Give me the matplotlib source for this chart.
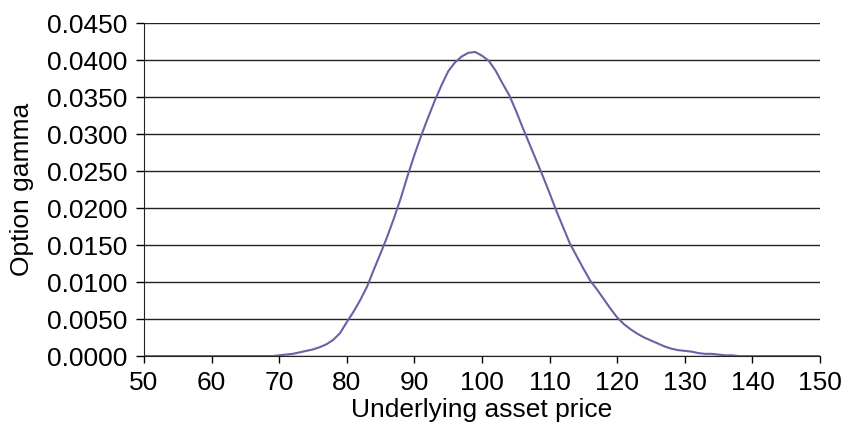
import matplotlib
matplotlib.use("Agg")
from matplotlib import pyplot as plt

# Underlying asset price and option gamma
price = [50, 60, 69, 70, 71, 72, 73, 74, 75, 76, 77, 78, 79, 80, 81, 82, 83, 84, 85,
         86, 87, 88, 89, 90, 91, 92, 93, 94, 95, 96, 97, 98, 99, 100, 101, 102,
         103, 104, 105, 106, 107, 108, 109, 110, 111, 112, 113, 114, 115, 116,
         117, 118, 119, 120, 121, 122, 123, 124, 125, 126, 127, 128, 129, 130,
         131, 132, 133, 134, 135, 136, 137, 138, 140, 150]
gamma = [0.0, 0.0, 0.0, 0.0001, 0.0002, 0.0003, 0.0005, 0.0007, 0.0009, 0.0012,
         0.0016, 0.0022, 0.0031, 0.0046, 0.0060, 0.0076, 0.0094, 0.0117, 0.0139,
         0.0162, 0.0187, 0.0214, 0.0244, 0.0272, 0.0298, 0.0322, 0.0345, 0.0366,
         0.0385, 0.0397, 0.0405, 0.0410, 0.0411, 0.0406, 0.0399, 0.0386, 0.0369,
         0.0353, 0.0332, 0.0309, 0.0287, 0.0265, 0.0243, 0.0220, 0.0196, 0.0174,
         0.0152, 0.0135, 0.0118, 0.0102, 0.0090, 0.0077, 0.0064, 0.0052, 0.0043,
         0.0036, 0.0030, 0.0025, 0.0021, 0.0017, 0.0013, 0.0010, 0.0008, 0.0007,
         0.0006, 0.0004, 0.0003, 0.0003, 0.0002, 0.0001, 0.0001, 0.0, 0.0, 0.0]

x_ticks = list(range(50, 151, 10))
y_ticks = [i * 0.005 for i in range(10)]

plt.rcParams['font.family'] = ['Liberation Sans', 'DejaVu Sans']

fig = plt.figure(figsize=(8.42, 4.29), dpi=100)
ax = fig.add_axes([0.171, 0.170, 0.803, 0.776])

# horizontal grid lines at each y tick
ax.grid(axis='y', color='#222222', linewidth=1.0)
ax.set_axisbelow(True)

ax.plot(price, gamma, color='#6464a6', linewidth=1.5)

ax.set_xlim(50, 150)
ax.set_ylim(0, 0.045)
ax.set_xticks(x_ticks)
ax.set_yticks(y_ticks)
ax.set_yticklabels([f"{v:.4f}" for v in y_ticks])

ax.tick_params(axis='both', labelsize=19, colors='black', width=1.0)
ax.tick_params(axis='y', length=6, pad=6)
ax.tick_params(axis='x', length=5, pad=6)

for side in ['top', 'right']:
    ax.spines[side].set_visible(False)
ax.spines['left'].set_color('#222222')
ax.spines['bottom'].set_color('#222222')

ax.set_xlabel('Underlying asset price', fontsize=19, labelpad=2)
ax.set_ylabel('Option gamma', fontsize=19, labelpad=9)

fig.savefig('out.png', dpi=100)
